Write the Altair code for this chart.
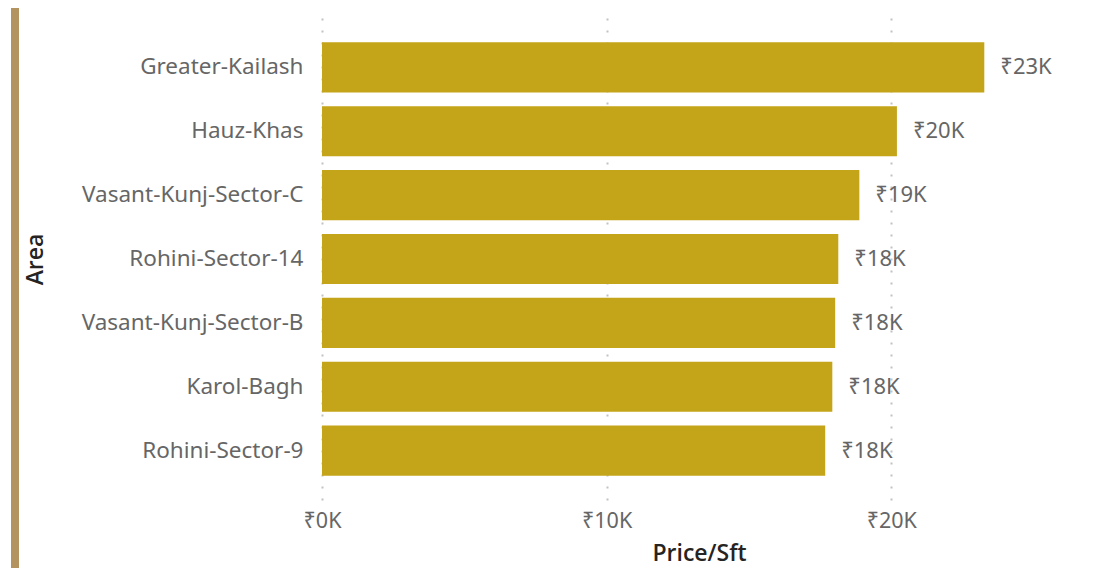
import altair as alt
import pandas as pd

areas = ["Greater-Kailash", "Hauz-Khas", "Vasant-Kunj-Sector-C", "Rohini-Sector-14",
         "Vasant-Kunj-Sector-B", "Karol-Bagh", "Rohini-Sector-9"]
prices = [23270, 20200, 18880, 18140, 18030, 17930, 17680]
x_ticks = [0, 10000, 20000]

df = pd.DataFrame({"Area": areas, "Price": prices})

W, H = 740, 482
FONT = "Noto Sans"
TFONT = "Open Sans"
LBL = "#666666"

y_enc = alt.Y("Area:N", sort=areas,
              scale=alt.Scale(paddingInner=0.215, paddingOuter=0.38),
              axis=alt.Axis(title="Area", labelFontSize=22.5, labelColor=LBL,
                            labelFont=FONT, labelPadding=19, ticks=False, domain=False,
                            titleFont=TFONT, titleFontSize=23, titleFontWeight=600,
                            titleColor="#252423", titleAngle=-90, titleX=-287, titleY=H / 2,
                            titleAlign="center", titleBaseline="middle", labelLimit=400))

x_enc = alt.X("Price:Q", scale=alt.Scale(domain=[0, 26000], nice=False),
              axis=alt.Axis(title="Price/Sft", values=x_ticks,
                            labelExpr="'₹' + format(datum.value/1000, '.0f') + 'K'",
                            labelFontSize=21.5, labelColor=LBL, labelFont=FONT,
                            labelPadding=10, labelFlush=False, ticks=False, domain=False,
                            grid=True, gridDash=[2, 10], gridColor="#C2C2C2", gridWidth=2,
                            titleFont=TFONT, titleFontSize=23, titleFontWeight=600,
                            titleColor="#252423", titleX=377, titleY=53,
                            titleAlign="center", titleBaseline="middle"))

bars = alt.Chart(df).mark_bar(color="#C4A418").encode(x=x_enc, y=y_enc)

labels = alt.Chart(df).transform_calculate(
    lbl="'₹' + format(datum.Price/1000, '.0f') + 'K'"
).mark_text(align="left", baseline="middle", dx=16, fontSize=22, color=LBL, font=FONT).encode(
    x="Price:Q", y=alt.Y("Area:N", sort=areas), text="lbl:N")

border = alt.Chart(df).mark_rule(color="#B39360", strokeWidth=8, clip=False).encode(
    x=alt.value(-307), y=alt.value(-20), y2=alt.value(H + 80))

chart = alt.layer(bars, labels, border).properties(
    width=W, height=H,
    autosize=alt.AutoSizeParams(type="none"),
    padding={"left": 314, "top": 10, "right": 47, "bottom": 68},
).configure(background="white").configure_view(strokeWidth=0, stroke="transparent")

chart.save("out.html", embed_options={"renderer": "svg", "actions": False})
